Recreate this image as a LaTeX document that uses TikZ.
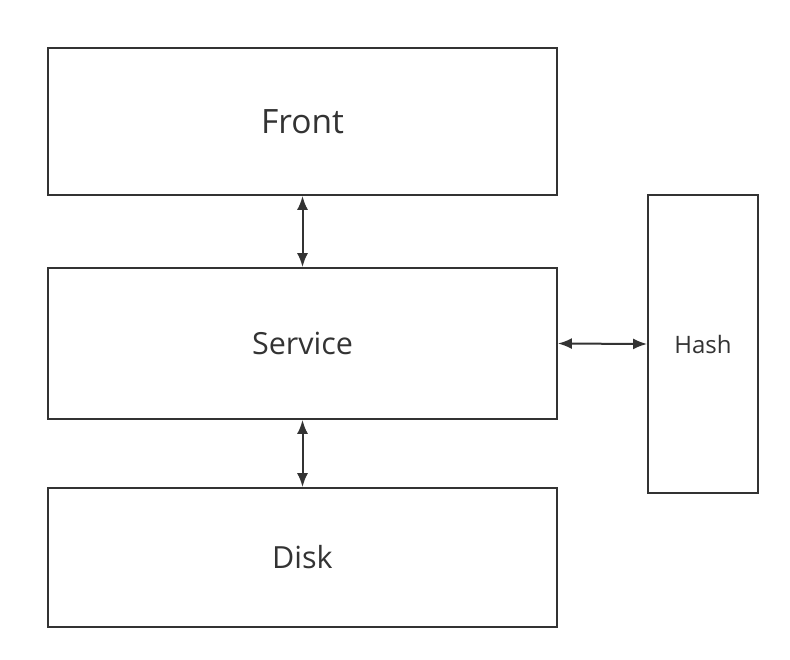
\documentclass[tikz,border=0pt]{standalone}
\usepackage{fontspec}
\setmainfont{Open Sans}
\usetikzlibrary{arrows.meta}
\definecolor{ink}{HTML}{333333}
\begin{document}
\begin{tikzpicture}[x=1pt,y=-1pt,
  block/.style={draw=ink,line width=1.8pt,inner sep=0pt,text=ink},
  link/.style={draw=ink,line width=2pt,{Latex[length=14pt,width=11pt]}-{Latex[length=14pt,width=11pt]}}]
\useasboundingbox (0,0) rectangle (790,659);
\node[block,minimum width=509pt,minimum height=147pt,font=\fontsize{33.5}{40}\selectfont] (front) at (302.5,121.5) {Front};
\node[block,minimum width=509pt,minimum height=151pt,font=\fontsize{30.5}{37}\selectfont] (service) at (302.5,343.5) {Service};
\node[block,minimum width=509pt,minimum height=139pt,font=\fontsize{30.5}{37}\selectfont] (disk) at (302.5,557.5) {Disk};
\node[block,minimum width=110pt,minimum height=298pt,font=\fontsize{24}{29}\selectfont] (hash) at (703,344) {Hash};
\draw[link] (front.south) -- (service.north);
\draw[link] (service.south) -- (disk.north);
\draw[link] (service.east) -- (hash.west);
\end{tikzpicture}
\end{document}
